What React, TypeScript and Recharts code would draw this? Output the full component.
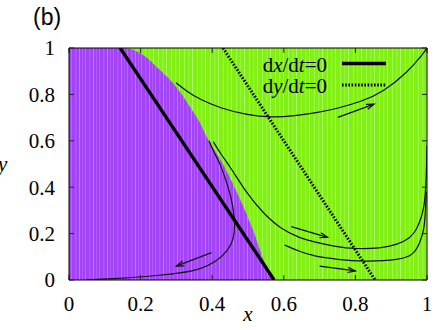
import React from 'react';
import { ComposedChart, Area, Line, XAxis, YAxis, ReferenceLine, Legend, Label } from 'recharts';

const SERIF = '"Liberation Serif", "DejaVu Serif", serif';
const SANS = '"Liberation Sans", Arial, sans-serif';

const ticks = [0, 0.2, 0.4, 0.6, 0.8, 1];

// border between the purple and the green basin
const boundaryX = [0, 0.151, 0.207, 0.254, 0.302, 0.338, 0.366, 0.385, 0.43, 0.475, 0.514, 0.547, 0.57];
const boundaryY = [1, 1, 0.97, 0.905, 0.828, 0.746, 0.677, 0.616, 0.5, 0.358, 0.216, 0.073, 0];

// nullclines
const dxX = [0.143, 0.573];
const dxY = [1, 0];
const dyX = [0.43, 0.855];
const dyY = [1, 0];

// trajectories
const trajTopX = [0.299, 0.33, 0.366, 0.42, 0.5, 0.565, 0.63, 0.692, 0.742, 0.82, 0.878, 0.943, 0.99, 1];
const trajTopY = [0.85, 0.812, 0.778, 0.742, 0.71, 0.701, 0.707, 0.722, 0.736, 0.77, 0.812, 0.891, 0.977, 1];

const trajLoopX = [0.391, 0.405, 0.422, 0.445, 0.459, 0.464, 0.459, 0.445, 0.412, 0.366, 0.31, 0.25, 0.198, 0.12, 0.05];
const trajLoopY = [0.6, 0.55, 0.503, 0.402, 0.316, 0.23, 0.172, 0.129, 0.079, 0.045, 0.03, 0.02, 0.013, 0.005, 0.001];

const trajMidX = [0.403, 0.425, 0.45, 0.496, 0.543, 0.589, 0.645, 0.682, 0.74, 0.804, 0.869, 0.915, 0.953, 0.971, 0.985, 0.992, 0.997, 0.999, 1];
const trajMidY = [0.596, 0.54, 0.489, 0.374, 0.287, 0.223, 0.18, 0.165, 0.145, 0.133, 0.137, 0.151, 0.18, 0.216, 0.273, 0.316, 0.4, 0.5, 0.58];

const trajLowX = [0.602, 0.645, 0.682, 0.75, 0.822, 0.925, 0.962, 0.98, 0.992, 0.996, 0.998];
const trajLowY = [0.151, 0.122, 0.103, 0.088, 0.079, 0.086, 0.108, 0.158, 0.216, 0.3, 0.38];

// arrows [x1, y1, x2, y2]
const arrows = [
  [0.751, 0.701, 0.852, 0.758],
  [0.621, 0.23, 0.722, 0.184],
  [0.7, 0.06, 0.8, 0.039],
  [0.398, 0.118, 0.3, 0.06],
];

const pts = (xs: number[], ys: number[]) => xs.map((x, i) => ({ x, y: ys[i] }));

const Arrow = (p: any) => {
  const { x1, y1, x2, y2 } = p;
  const a = Math.atan2(y2 - y1, x2 - x1);
  const len = 8;
  const spread = 0.33;
  const hx1 = x2 - len * Math.cos(a - spread);
  const hy1 = y2 - len * Math.sin(a - spread);
  const hx2 = x2 - len * Math.cos(a + spread);
  const hy2 = y2 - len * Math.sin(a + spread);
  return (
    <g>
      <line x1={x1} y1={y1} x2={x2} y2={y2} stroke="#111" strokeWidth={1.2} />
      <path d={`M${hx1},${hy1}L${x2},${y2}L${hx2},${hy2}`} fill="none" stroke="#111" strokeWidth={1.2} />
    </g>
  );
};

const LegendBox = () => (
  <svg width={436} height={100} style={{ display: 'block' }}>
    <text x={33} y={25} fontFamily={SANS} fontSize={23} fill="#000">(b)</text>
    <text x={327} y={72} textAnchor="end" fontFamily={SERIF} fontSize={21} fill="#000">
      d<tspan fontStyle="italic">x</tspan>/d<tspan fontStyle="italic">t</tspan>=0
    </text>
    <line x1={342} y1={63.5} x2={386} y2={63.5} stroke="#000" strokeWidth={3.3} />
    <text x={327} y={93} textAnchor="end" fontFamily={SERIF} fontSize={21} fill="#000">
      d<tspan fontStyle="italic">y</tspan>/d<tspan fontStyle="italic">t</tspan>=0
    </text>
    <line x1={342} y1={85} x2={386} y2={85} stroke="#000" strokeWidth={3} strokeDasharray="1.6 1.6" />
  </svg>
);

const tickStyle = { fontSize: 21, fontFamily: SERIF, fill: '#000' };

export default function App() {
  return (
    <div style={{ position: 'absolute', left: 0, top: 0 }}>
      <ComposedChart width={436} height={330} margin={{ top: 47, right: 8, bottom: 0, left: 0 }}>
        <defs>
          <pattern id="purpleStripes" patternUnits="userSpaceOnUse" width="14" height="10">
            <rect width="14" height="10" fill="#a443f5" />
            <rect x="1" width="1" height="10" fill="#b468fa" />
            <rect x="5" width="1.5" height="10" fill="#ad58f8" />
            <rect x="9" width="1" height="10" fill="#bd7cfb" />
            <rect x="12" width="0.8" height="10" fill="#b062f9" />
          </pattern>
          <pattern id="greenStripes" patternUnits="userSpaceOnUse" width="13" height="10">
            <rect width="13" height="10" fill="#82f012" />
            <rect x="2" width="1" height="10" fill="#9df84e" />
            <rect x="6" width="1.5" height="10" fill="#90f534" />
            <rect x="10" width="1" height="10" fill="#aafc66" />
          </pattern>
        </defs>
        <XAxis dataKey="x" type="number" domain={[0, 1]} ticks={ticks} allowDataOverflow
          height={50} tickSize={-5} tickMargin={21} tick={tickStyle}
          tickLine={{ stroke: '#222' }} axisLine={{ stroke: '#000' }}>
          <Label value="x" position="insideBottom" offset={9} fontFamily={SERIF} fontSize={21} fontStyle="italic" fill="#000" />
        </XAxis>
        <XAxis xAxisId="top" orientation="top" dataKey="x" type="number" domain={[0, 1]} ticks={ticks}
          allowDataOverflow height={1} tickSize={-5} tickFormatter={() => ''}
          tickLine={{ stroke: '#222' }} axisLine={{ stroke: '#000' }} />
        <YAxis type="number" domain={[0, 1]} ticks={ticks} allowDataOverflow width={69}
          tickSize={-5} tickMargin={19} tick={tickStyle}
          tickLine={{ stroke: '#222' }} axisLine={{ stroke: '#000' }}>
          <Label value="y" position="insideLeft" offset={-2} fontFamily={SERIF} fontSize={21} fontStyle="italic" fill="#000" />
        </YAxis>
        <YAxis yAxisId="right" orientation="right" type="number" domain={[0, 1]} ticks={ticks}
          allowDataOverflow width={1} tickSize={-5} tickFormatter={() => ''}
          tickLine={{ stroke: '#222' }} axisLine={{ stroke: '#000' }} />

        <Area data={pts([0, 1], [1, 1])} dataKey="y" type="linear" stroke="none"
          fill="url(#greenStripes)" fillOpacity={1} isAnimationActive={false} activeDot={false} />
        <Area data={pts(boundaryX, boundaryY)} dataKey="y" type="monotone" stroke="none"
          fill="url(#purpleStripes)" fillOpacity={1} isAnimationActive={false} activeDot={false} />

        <Line data={pts(trajTopX, trajTopY)} dataKey="y" type="basis" stroke="#111" strokeWidth={1.2} dot={false} activeDot={false} isAnimationActive={false} />
        <Line data={pts(trajLoopX, trajLoopY)} dataKey="y" type="basis" stroke="#111" strokeWidth={1.2} dot={false} activeDot={false} isAnimationActive={false} />
        <Line data={pts(trajMidX, trajMidY)} dataKey="y" type="basis" stroke="#111" strokeWidth={1.2} dot={false} activeDot={false} isAnimationActive={false} />
        <Line data={pts(trajLowX, trajLowY)} dataKey="y" type="basis" stroke="#111" strokeWidth={1.2} dot={false} activeDot={false} isAnimationActive={false} />

        <Line data={pts(dxX, dxY)} dataKey="y" type="linear" stroke="#000" strokeWidth={3.3} dot={false} activeDot={false} isAnimationActive={false} />
        <Line data={pts(dyX, dyY)} dataKey="y" type="linear" stroke="#000" strokeWidth={3} strokeDasharray="1.6 1.6" dot={false} activeDot={false} isAnimationActive={false} />

        {arrows.map((a, i) => (
          <ReferenceLine key={i} segment={[{ x: a[0], y: a[1] }, { x: a[2], y: a[3] }]} ifOverflow="visible" shape={Arrow} />
        ))}

        <Legend layout="horizontal" verticalAlign="middle" align="center" content={LegendBox}
          wrapperStyle={{ top: 0, left: 0, width: 436, height: 100 }} />
      </ComposedChart>
    </div>
  );
}
